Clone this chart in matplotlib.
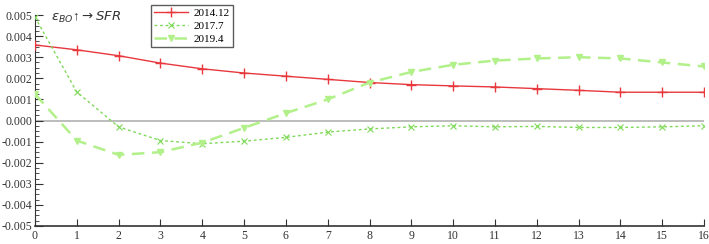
import numpy as np
import matplotlib
matplotlib.use("Agg")
import matplotlib.pyplot as plt
from matplotlib.ticker import MultipleLocator

# horizon (periods)
periods = list(range(17))

# impulse responses
resp_2014_12 = [0.00358, 0.00335, 0.00307, 0.00272, 0.00245, 0.00225, 0.00210, 0.00195,
                0.00180, 0.00170, 0.00164, 0.00159, 0.00151, 0.00143, 0.00134, 0.00134, 0.00134]
resp_2017_7 = [0.00490, 0.00135, -0.00030, -0.00095, -0.00110, -0.00098, -0.00080, -0.00055,
               -0.00040, -0.00030, -0.00025, -0.00030, -0.00028, -0.00033, -0.00033, -0.00030, -0.00025]
resp_2019_4 = [0.00125, -0.00095, -0.00163, -0.00150, -0.00105, -0.00035, 0.00035, 0.00100,
               0.00180, 0.00230, 0.00264, 0.00284, 0.00294, 0.00300, 0.00294, 0.00275, 0.00256]

labels = ["2014.12", "2017.7", "2019.4"]
yticks = np.round(np.arange(-0.005, 0.0051, 0.001), 3)

plt.rcParams['font.family'] = ['Liberation Serif', 'DejaVu Serif']

fig = plt.figure(figsize=(7.09, 2.44), dpi=100)
ax = fig.add_axes([35 / 709, 18 / 244, 669 / 709, 211 / 244])

ax.axhline(0, color="#b0b0b0", lw=1.2, zorder=1)

ax.plot(periods, resp_2014_12, color="#e8383d", lw=1.0, marker="+", ms=7, mew=1.0,
        label=labels[0], zorder=3)
ax.plot(periods, resp_2017_7, color="#7ed957", lw=1.0, ls=(0, (2, 2)), marker="x", ms=5, mew=0.8,
        label=labels[1], zorder=3)
ax.plot(periods, resp_2019_4, color="#b2f08a", lw=1.8, ls=(0, (5, 3)), marker="v", ms=5,
        label=labels[2], zorder=3)

ax.set_xlim(0, 16)
ax.set_ylim(-0.005, 0.005)
ax.set_xticks(periods)
ax.set_yticks(yticks)
ax.set_yticklabels([f"{v:.3f}" for v in yticks])
ax.yaxis.set_minor_locator(MultipleLocator(0.00025))

for s in ["top", "right"]:
    ax.spines[s].set_visible(False)
ax.spines["left"].set_color("#333333")
ax.spines["bottom"].set_color("#333333")
ax.spines["bottom"].set_linewidth(1.2)

ax.tick_params(axis="x", direction="in", length=5, labelsize=8.5, pad=3, colors="#333333")
ax.tick_params(axis="y", which="major", direction="in", length=6, labelsize=8.5, pad=2, colors="#333333")
ax.tick_params(axis="y", which="minor", direction="in", length=3, colors="#333333")

ax.legend(loc="upper left", bbox_to_anchor=(0.165, 1.075), fontsize=8, frameon=True,
          fancybox=False, edgecolor="#333333", handlelength=3.0, borderpad=0.3,
          labelspacing=0.3, handletextpad=0.5)

fig.text(0.072, 0.915, r"$\varepsilon_{BO}$" + "\u2191" + r"$\rightarrow SFR$",
         fontsize=9.5, color="#333333")

fig.savefig("out.png", dpi=100)
